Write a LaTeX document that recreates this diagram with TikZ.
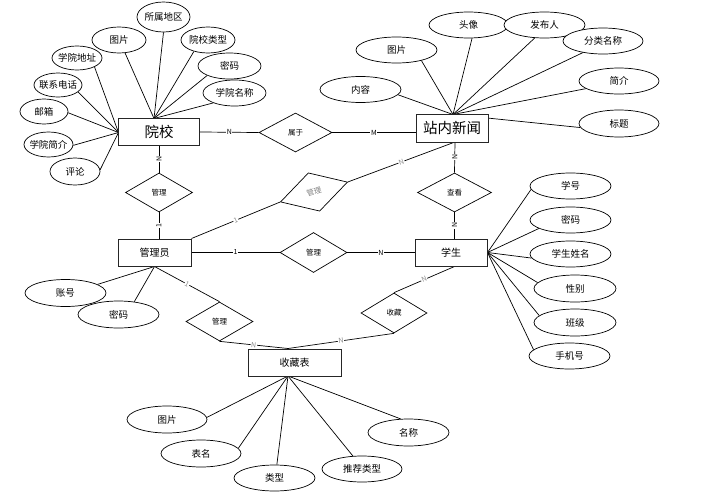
\documentclass[tikz,border=0pt]{standalone}
\usepackage{fontspec}
\setmainfont{Noto Sans CJK SC}
\usetikzlibrary{shapes.geometric,backgrounds}
\newcommand\zb[1]{\makebox[0pt]{#1}}
\begin{document}
\begin{tikzpicture}[x=1pt,y=-1pt,
  ent/.style={draw=black!85, line width=1pt, fill=white, inner sep=0pt},
  attr/.style={ellipse, draw, line width=0.7pt, fill=white, inner sep=0pt,
    minimum width=81pt, minimum height=26pt, font=\fontsize{9.5}{10}\selectfont},
  rel/.style={diamond, draw, line width=0.7pt, fill=white, inner sep=0pt,
    minimum width=67pt, minimum height=39pt, font=\fontsize{7.5}{8}\selectfont},
  card/.style={fill=white, inner sep=0.6pt, font=\fontsize{7}{7}\selectfont},
  gcard/.style={card, text=black!45},
  ln/.style={line width=0.7pt}
]
\useasboundingbox (0,0) rectangle (705,498);

% entities
\node[ent, minimum width=81pt, minimum height=27pt, font=\fontsize{14.5}{15}\selectfont] (yx) at (159,132) {院校};
\node[ent, minimum width=72pt, minimum height=28pt, font=\fontsize{14.5}{15}\selectfont] (news) at (452,128) {站内新闻};
\node[ent, minimum width=73pt, minimum height=27pt, font=\fontsize{10}{11}\selectfont] (admin) at (154.5,252.5) {管理员};
\node[ent, minimum width=72pt, minimum height=27pt, font=\fontsize{10}{11}\selectfont] (stu) at (451,252.5) {学生};
\node[ent, minimum width=93pt, minimum height=27pt, font=\fontsize{10}{11}\selectfont] (fav) at (294.5,362.5) {收藏表};

% relationships
\node[rel, minimum width=73pt] (shuyu) at (295.5,132.5) {属于};
\node[rel] (gl1) at (159,192.5) {管理};
\node[rel, minimum width=74pt] (chakan) at (454.5,192.5) {查看};
\node[rel, minimum height=40pt] (gl2) at (313.5,252.5) {管理};
\node[rel] (gl3) at (219.5,321.5) {管理};
\node[rel, minimum width=66pt, minimum height=40pt] (shoucang) at (394,313) {收藏};
\node[rel, minimum width=70pt, minimum height=40pt, rotate=16.5, text=black!50] (gl4) at (314,192) {管理};

% convergence points
\coordinate (yxT) at (154,118.5);
\coordinate (yxL) at (118.5,132.5);
\coordinate (newsT) at (453,114.5);
\coordinate (newsB) at (455,142);
\coordinate (favB) at (288,376);

% attributes of 院校
\node[attr, minimum width=53pt, minimum height=30pt] (a1) at (163.5,17) {\zb{所属地区}};
\node[attr, minimum width=54pt] (a2) at (119,40) {\zb{图片}};
\node[attr, minimum width=54pt] (a3) at (208,40) {\zb{院校类型}};
\node[attr, minimum width=50pt, minimum height=24pt] (a4) at (77,58) {\zb{学院地址}};
\node[attr, minimum width=63pt] (a5) at (229.5,66) {\zb{密码}};
\node[attr, minimum width=48pt, minimum height=24pt] (a6) at (58,85) {\zb{联系电话}};
\node[attr, minimum width=63pt] (a7) at (234.5,93) {\zb{学院名称}};
\node[attr, minimum width=48pt, minimum height=25pt] (a8) at (44,111.5) {\zb{邮箱}};
\node[attr, minimum width=49pt, minimum height=25pt] (a9) at (48.5,144.5) {\zb{学院简介}};
\node[attr, minimum width=50pt, minimum height=27pt] (a10) at (75,171.5) {\zb{评论}};

% attributes of 站内新闻
\node[attr] (b1) at (360.5,89.5) {\zb{内容}};
\node[attr] (b2) at (396.5,50) {\zb{图片}};
\node[attr, minimum width=79pt] (b3) at (468.5,25) {\zb{头像}};
\node[attr] (b4) at (544.5,25) {\zb{发布人}};
\node[attr, minimum width=80pt] (b5) at (603,41) {\zb{分类名称}};
\node[attr, minimum width=80pt] (b6) at (619,81) {\zb{简介}};
\node[attr, minimum width=80pt, minimum height=27pt] (b7) at (619,123.5) {\zb{标题}};

% attributes of 学生
\node[attr] (c1) at (570.5,186) {\zb{学号}};
\node[attr] (c2) at (570.5,220) {\zb{密码}};
\node[attr] (c3) at (570.5,254) {\zb{学生姓名}};
\node[attr, minimum width=82pt, minimum height=27pt] (c4) at (575,288.5) {\zb{性别}};
\node[attr, minimum width=82pt, minimum height=27pt] (c5) at (575,322.5) {\zb{班级}};
\node[attr] (c6) at (569.5,356) {\zb{手机号}};

% attributes of 管理员
\node[attr, minimum height=27pt] (d1) at (65.5,293) {\zb{账号}};
\node[attr, minimum height=27pt] (d2) at (118.5,314.5) {\zb{密码}};

% attributes of 收藏表
\node[attr, minimum width=80pt, minimum height=27pt] (e1) at (167,419.5) {\zb{图片}};
\node[attr, minimum width=80pt, minimum height=27pt] (e2) at (201,453.5) {\zb{表名}};
\node[attr] (e3) at (274.5,478) {\zb{类型}};
\node[attr, minimum width=80pt] (e4) at (362,469) {\zb{推荐类型}};
\node[attr, minimum height=27pt] (e5) at (408.5,432.5) {\zb{名称}};

\begin{scope}[on background layer]
  % attribute connectors
  \draw[ln] (a1.-90) -- (yxT);
  \draw[ln] (a2.-65) -- (yxT);
  \draw[ln] (a3.-141) -- (yxT);
  \draw[ln] (a5.-157) -- (yxT);
  \draw[ln] (a7.-155) -- (yxT);
  \draw[ln] (a4.-27) -- (yxL);
  \draw[ln] (a6.-19) -- (yxL);
  \draw[ln] (a8.-3) -- (yxL);
  \draw[ln] (a9.-2) -- (yxL);
  \draw[ln] (a10.4) -- (yxL);
  \draw[ln] (b1.-8) -- (newsT);
  \draw[ln] (b2.-23) -- (newsT);
  \draw[ln] (b3.-75) -- (newsT);
  \draw[ln] (b4.-127) -- (newsT);
  \draw[ln] (b5.-150) -- (newsT);
  \draw[ln] (b6.-167) -- (newsT);
  \draw[ln] (b7.-174) -- (newsT);
  \draw[ln] (c1.-175) -- (stu.east);
  \draw[ln] (c2.-165) -- (stu.east);
  \draw[ln] (c3.-174) -- (stu.east);
  \draw[ln] (c4.171) -- (stu.east);
  \draw[ln] (c5.169) -- (stu.east);
  \draw[ln] (c6.170) -- (stu.east);
  \draw[ln] (d1.15) -- (admin.south);
  \draw[ln] (d2.39) -- (admin.south);
  \draw[ln] (e1.3) -- (favB);
  \draw[ln] (e2.8) -- (favB);
  \draw[ln] (e3.80) -- (favB);
  \draw[ln] (e4.125) -- (favB);
  \draw[ln] (e5.120) -- (favB);

  % relationship connectors
  \draw[ln] (yx.east) -- node[card]{N} (shuyu.west);
  \draw[ln] (shuyu.east) -- node[card]{M} (shuyu.east -| news.west);
  \draw[ln] (yx.south) -- node[card, rotate=90]{N} (gl1.north);
  \draw[ln] (gl1.south) -- node[card, rotate=90]{1} (gl1.south |- admin.north);
  \draw[ln] (newsB) -- node[card, rotate=90]{N} (chakan.north);
  \draw[ln] (chakan.south) -- node[card, rotate=90]{N} (chakan.south |- stu.north);
  \draw[ln] (admin.east) -- node[card]{1} (gl2.west);
  \draw[ln] (gl2.east) -- node[card]{N} (stu.west);
  \draw[ln] (admin.north east) -- node[gcard, sloped]{1} (gl4.west);
  \draw[ln] (gl4.east) -- node[gcard, sloped]{N} (newsB);
  \draw[ln] (admin.south) -- node[gcard, sloped]{1} (gl3.north);
  \draw[ln] (gl3.south) -- node[gcard, sloped]{N} (favB |- fav.north);
  \draw[ln] (shoucang.south) -- node[gcard, sloped]{N} (favB |- fav.north);
  \draw[ln] (shoucang.north) -- node[gcard, sloped]{N} (chakan.south |- stu.south);
\end{scope}
\end{tikzpicture}
\end{document}
